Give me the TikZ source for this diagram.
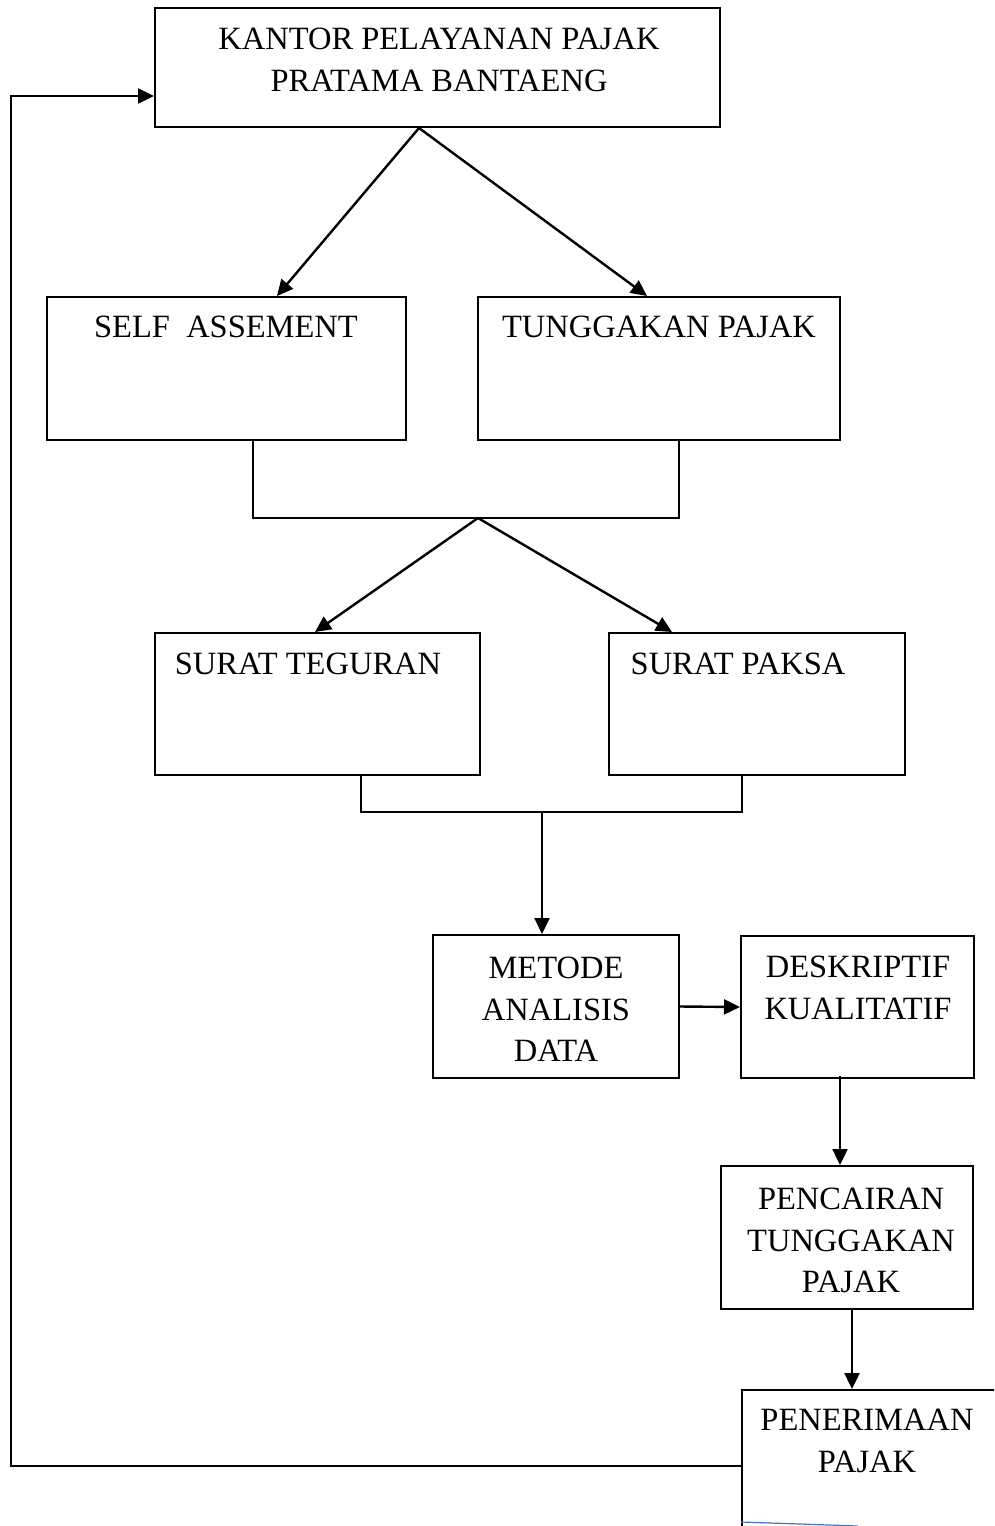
\documentclass[tikz,border=0pt]{standalone}
\usepackage{fontspec}
\setmainfont{Liberation Serif}
\usetikzlibrary{arrows.meta}
\definecolor{biru}{RGB}{68,114,196}
\tikzset{
  kotak/.style={draw,line width=2pt,inner sep=0pt},
  teks/.style={anchor=north,inner sep=0pt,align=center,font=\fontsize{32.5}{41.5}\selectfont},
  panah/.style={line width=2.4pt,-{Triangle[length=16pt,width=15pt]}},
  garis/.style={line width=1.6pt}
}
\begin{document}
\begin{tikzpicture}[x=1pt,y=-1pt]
 \useasboundingbox (0,0) rectangle (994,1526);
 \clip (0,0) rectangle (994,1526);
 % kotak
 \node [kotak,minimum width=565pt,minimum height=119pt] (kpp) at (437.5,67.5) {};
 \node [kotak,minimum width=359pt,minimum height=143pt] (self) at (226.5,368.5) {};
 \node [kotak,minimum width=362pt,minimum height=143pt] (tunggakan) at (659,368.5) {};
 \node [kotak,minimum width=325pt,minimum height=142pt] (teguran) at (317.5,704) {};
 \node [kotak,minimum width=296pt,minimum height=142pt] (paksa) at (757,704) {};
 \node [kotak,minimum width=246pt,minimum height=143pt] (metode) at (556,1006.5) {};
 \node [kotak,minimum width=233pt,minimum height=142pt] (deskriptif) at (857.5,1007) {};
 \node [kotak,minimum width=252pt,minimum height=143pt] (pencairan) at (847,1237.5) {};
 \node [kotak,minimum width=300pt,minimum height=200pt,anchor=north west] (terima) at (741,1389) {};
 % teks
 \node [teks] (kppT) at (439,28) {KANTOR PELAYANAN PAJAK\\PRATAMA BANTAENG};
 \node [teks] (selfT) at (226,316) {SELF\ \ ASSEMENT};
 \node [teks] (tunggakanT) at (659,316) {TUNGGAKAN PAJAK};
 \node [teks] (teguranT) at (308,653) {SURAT TEGURAN};
 \node [teks] (paksaT) at (738,653) {SURAT PAKSA};
 \node [teks] (metodeT) at (556,957) {METODE\\ANALISIS\\DATA};
 \node [teks] (deskriptifT) at (858,956) {DESKRIPTIF\\KUALITATIF};
 \node [teks] (pencairanT) at (851,1188) {PENCAIRAN\\TUNGGAKAN\\PAJAK};
 \node [teks] (terimaT) at (867,1409) {PENERIMAAN\\PAJAK};
 % garis
 \coordinate (j1) at (478,518);
 \coordinate (j2) at (542,812);
 \coordinate (loopbot) at (11,1466);
 \coordinate (looptop) at (11,96);
 \draw [panah] ([xshift=-18.5pt]kpp.south) -- ([xshift=50.5pt]self.north);
 \draw [panah] ([xshift=-18.5pt]kpp.south) -- ([xshift=-12pt]tunggakan.north);
 \draw [garis] ([xshift=26.5pt]self.south) |- (j1) -| ([xshift=20pt]tunggakan.south);
 \draw [panah] (j1) -- ([xshift=-2.5pt]teguran.north);
 \draw [panah] (j1) -- ([xshift=-85pt]paksa.north);
 \draw [garis] ([xshift=43.5pt]teguran.south) |- (j2) -| ([xshift=-15pt]paksa.south);
 \draw [panah] (j2) -- (j2 |- metode.north);
 \draw [panah] (metode.east) -- (deskriptif.west);
 \draw [panah] ([xshift=-17.5pt,yshift=3pt]deskriptif.south) -- ([xshift=-17.5pt]deskriptif.south |- pencairan.north);
 \draw [panah] ([xshift=5pt]pencairan.south) -- ([xshift=5pt]pencairan.south |- terima.north);
 \draw [panah] (terima.west |- loopbot) -- (loopbot) -- (looptop) -- (looptop -| kpp.west);
 \draw [line width=1.2pt,biru] (741,1522) -- (858,1526);
\end{tikzpicture}
\end{document}
